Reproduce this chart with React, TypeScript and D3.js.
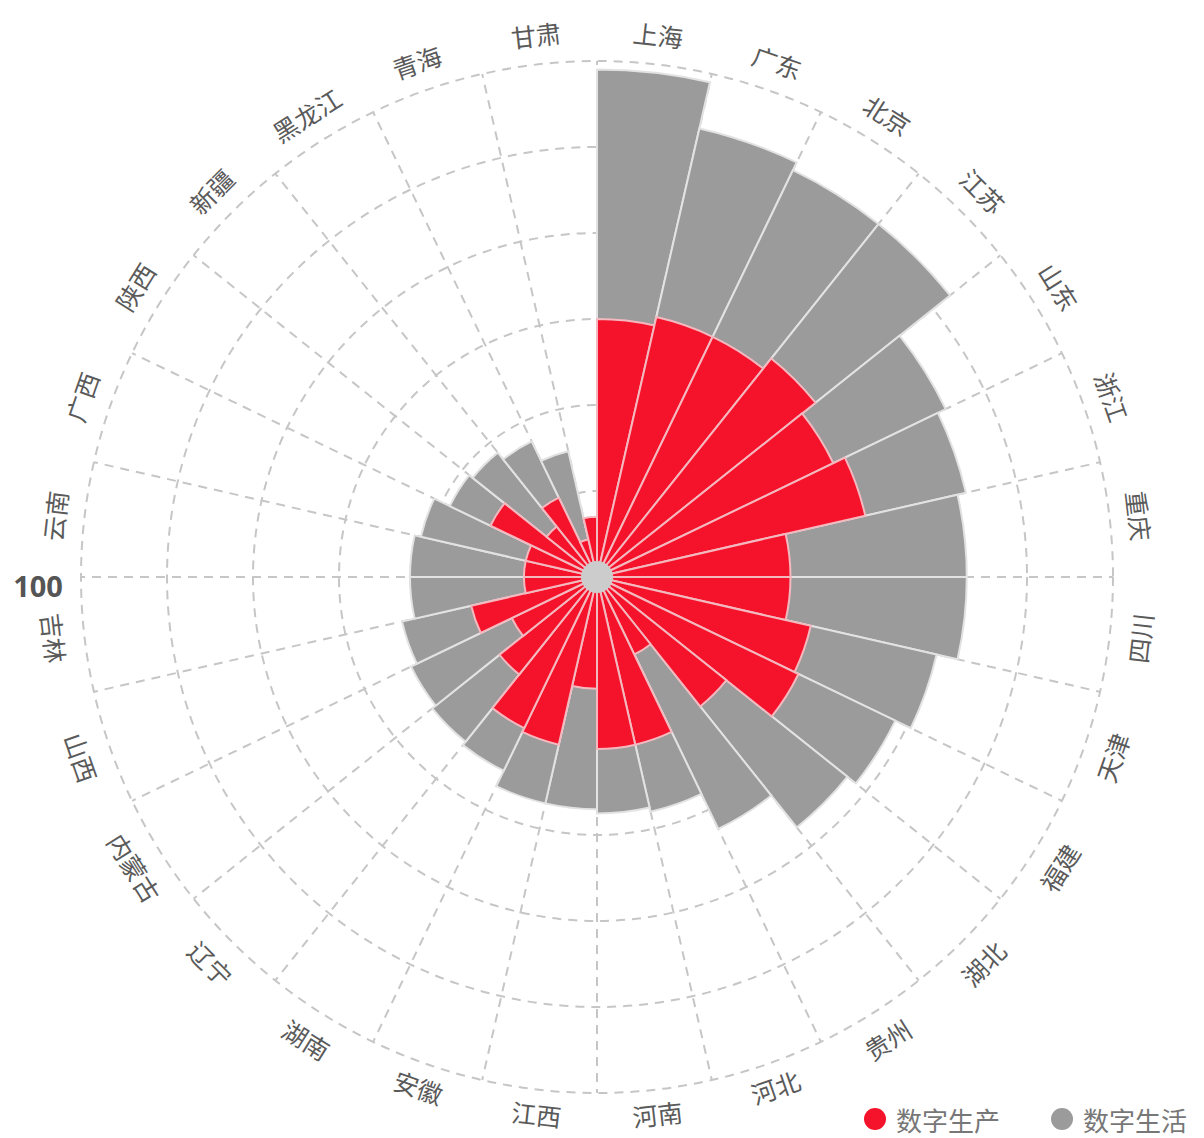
import React from "react";
import * as d3 from "d3";

const categories = ["上海","广东","北京","江苏","山东","浙江","重庆","四川","天津","福建","湖北","贵州","河北","河南","江西","安徽","湖南","辽宁","内蒙古","山西","吉林","云南","广西","陕西","新疆","黑龙江","青海","甘肃"];
// 数字生产 (red, inner)
const production = [60,62,62,65,61,64,45,45,51,52,38.5,20,40,40,26,40,39,29,22,30,17,17,17,27.5,15,20.5,9,14];
// 数字生活 (grey, stacked on top)
const life = [58,45,43,40,29,24,41,41,30,25,36,45,16,15,28,14,11,20,26,16.5,26.5,26.5,25,10.5,22,14.5,21,0];
const radiusTicks = [20,40,60,80,100,120];
const seriesNames = ["数字生产","数字生活"];
const colors = ["#f5132b","#9b9b9b"];

const W = 1204, H = 1138;
const cx = 597, cy = 577;
const R = 516;

export default function App() {
  const n = categories.length;
  const slot = (2 * Math.PI) / n;
  const r = d3.scaleLinear().domain([0, 120]).range([0, R]);
  const arc = d3.arc<any>();
  const deg = (a: number) => (a * 180) / Math.PI;

  return (
    <div style={{ position: "absolute", left: 0, top: 0, width: W, height: H, background: "#fff" }}>
      <svg width={W} height={H} style={{ display: "block" }} fontFamily="'Noto Sans CJK SC', 'Noto Sans', sans-serif">
        <g transform={`translate(${cx},${cy})`}>
          {radiusTicks.map((t) => (
            <circle key={t} r={r(t)} fill="none" stroke="#c6c6c6" strokeWidth={2} strokeDasharray="9 7" />
          ))}
          {categories.map((c, i) => {
            const a = i * slot;
            return (
              <line key={c} x1={0} y1={0} x2={R * Math.sin(a)} y2={-R * Math.cos(a)} stroke="#c6c6c6" strokeWidth={2} strokeDasharray="9 7" />
            );
          })}
          {categories.map((c, i) => {
            const total = production[i] + life[i];
            return (
              <path key={"g" + c}
                d={arc({ innerRadius: 0, outerRadius: r(total), startAngle: i * slot, endAngle: (i + 1) * slot }) as string}
                fill={colors[1]} stroke="#e2e2e2" strokeWidth={2} />
            );
          })}
          {categories.map((c, i) => (
            <path key={"p" + c}
              d={arc({ innerRadius: 0, outerRadius: r(production[i]), startAngle: i * slot, endAngle: (i + 1) * slot }) as string}
              fill={colors[0]} stroke="#f4b8bf" strokeWidth={2} />
          ))}
          <circle r={16} fill="#cccccc" />
          {categories.map((c, i) => {
            const a = (i + 0.5) * slot;
            const d = deg(a);
            const rot = d > 90 && d < 270 ? d - 180 : d;
            const lr = d > 150 && d < 210 ? 540 : 546;
            return (
              <text key={"l" + c} x={lr * Math.sin(a)} y={-lr * Math.cos(a)}
                transform={`rotate(${rot},${lr * Math.sin(a)},${-lr * Math.cos(a)})`}
                textAnchor="middle" dominantBaseline="central" fontSize={25} fill="#5a5a5a">
                {c}
              </text>
            );
          })}
        </g>
        <text x={38} y={597} textAnchor="middle" fontSize={29} fontWeight="bold" fill="#555" fontFamily="'Open Sans', 'Noto Sans', sans-serif">100</text>
        {seriesNames.map((s, k) => (
          <g key={s} transform={`translate(${k === 0 ? 875 : 1062},1119)`}>
            <circle r={11} fill={colors[k]} />
            <text x={21} y={0} dominantBaseline="central" fontSize={26} fill="#777">{s}</text>
          </g>
        ))}
      </svg>
    </div>
  );
}
